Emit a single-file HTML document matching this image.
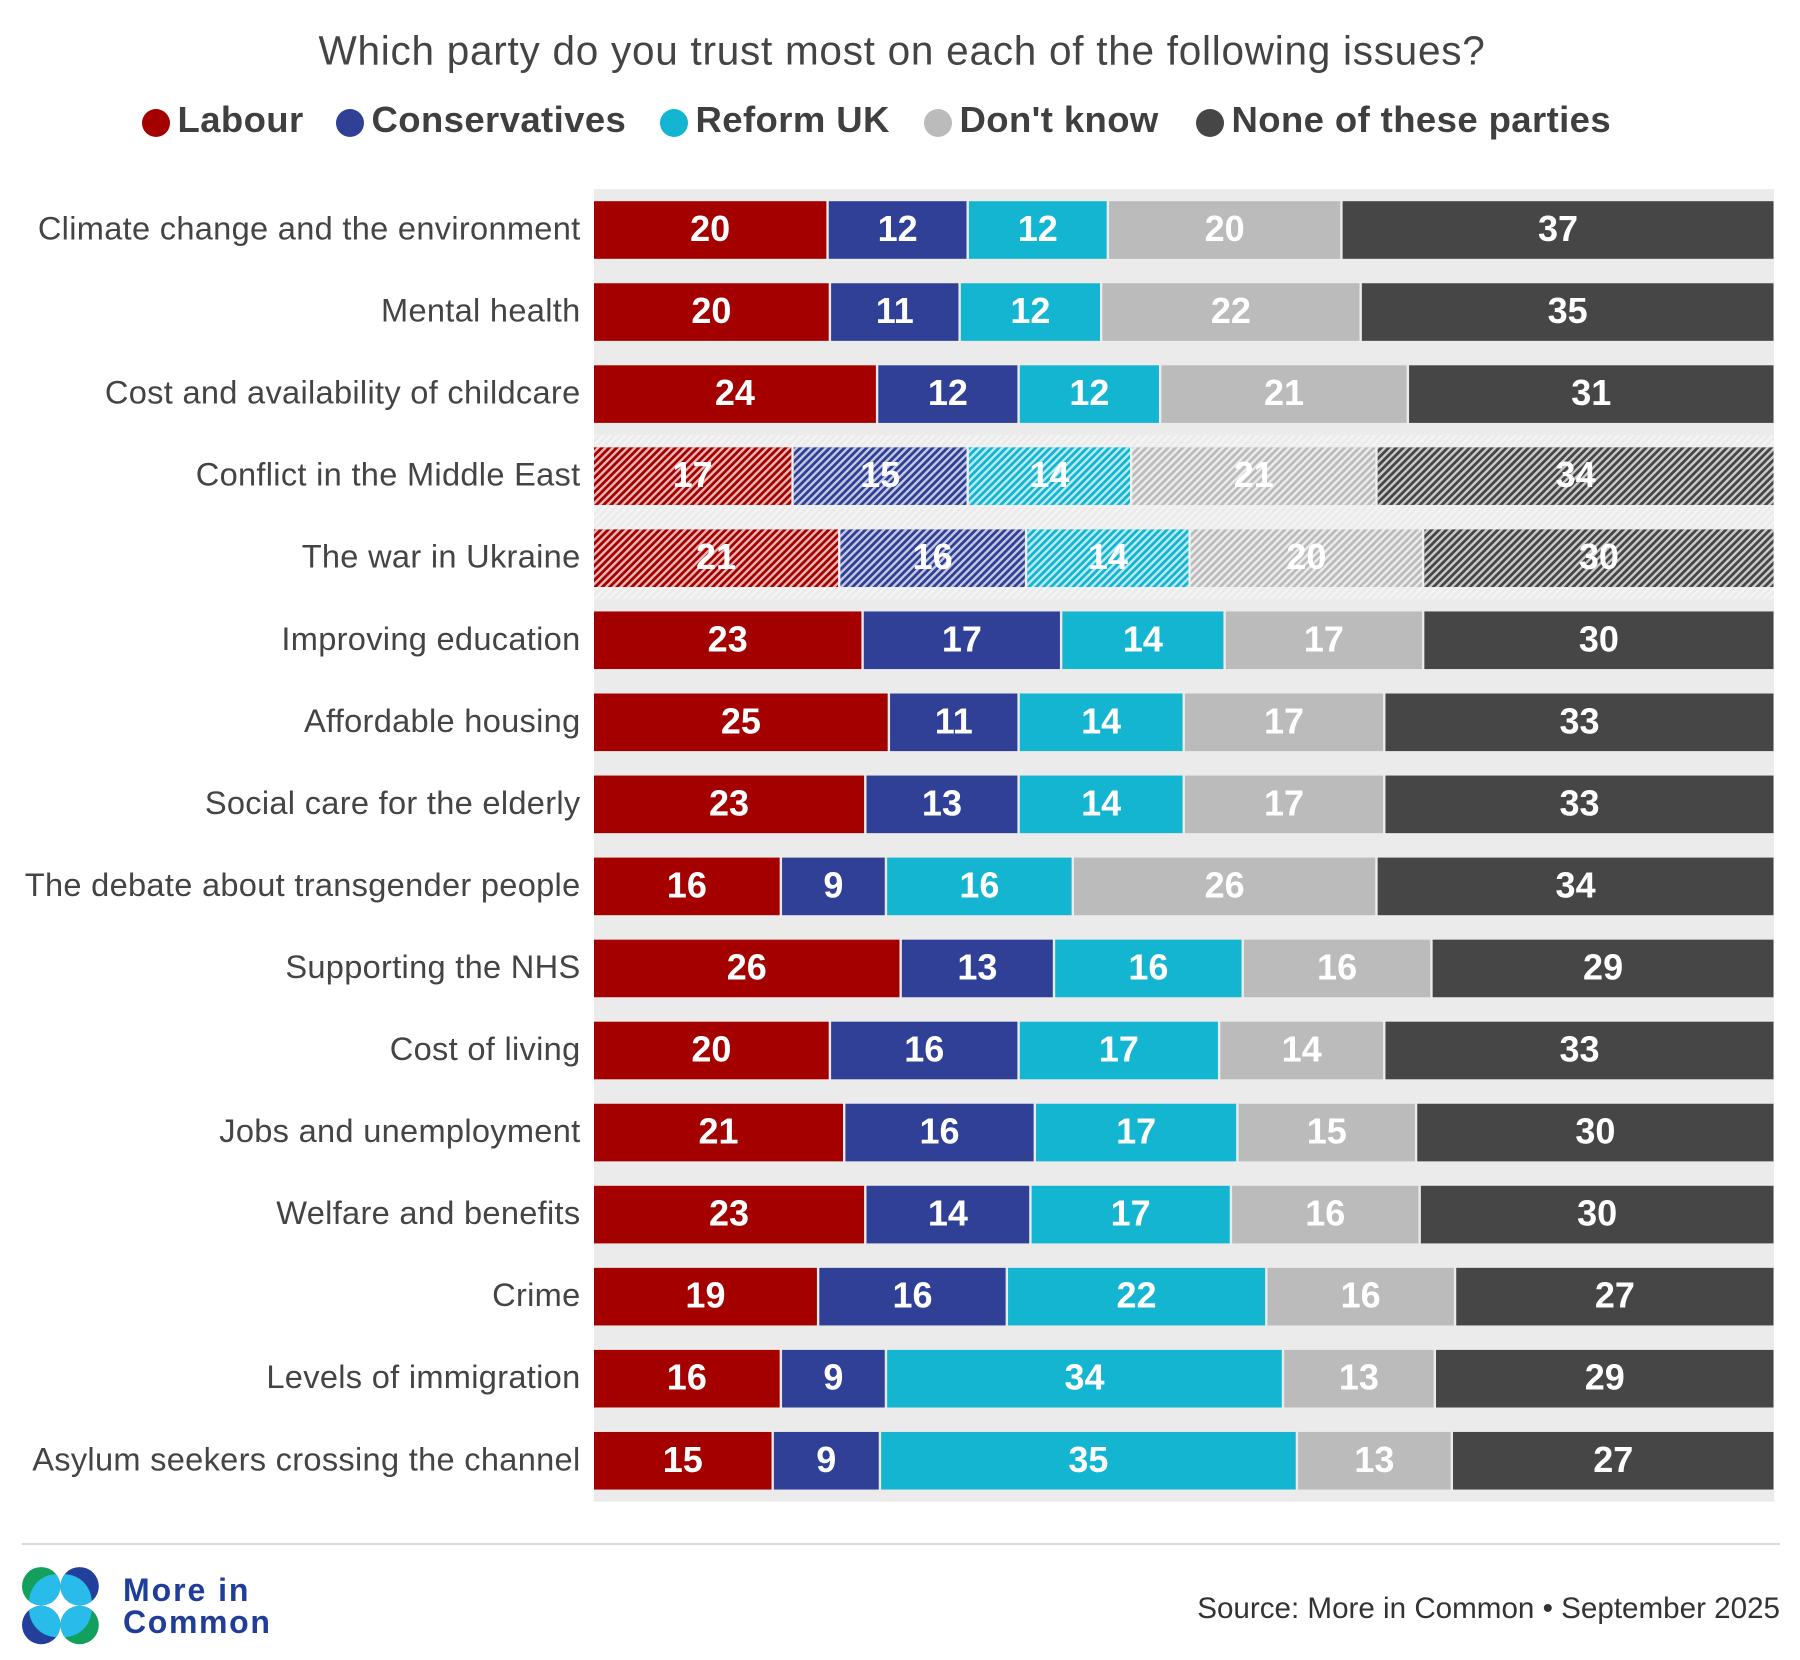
<!DOCTYPE html>
<html lang="en">
<head>
<meta charset="utf-8">
<title>Which party do you trust most on each of the following issues?</title>
<style>
html,body{margin:0;padding:0;background:#fff;width:1800px;height:1660px;overflow:hidden}
svg{display:block}
text{font-family:"Liberation Sans",sans-serif}
</style>
</head>
<body>
<svg id="chart" xmlns="http://www.w3.org/2000/svg" width="1800" height="1660" viewBox="0 0 1800 1660">
  <defs>
    <pattern id="hatch" patternUnits="userSpaceOnUse" width="5.2" height="5.2" patternTransform="rotate(45)">
      <rect x="0" y="0" width="2.4" height="5.2" fill="#fff" fill-opacity="0.72"></rect>
    </pattern>
    <clipPath id="clip-tl"><circle cx="41.2" cy="1586.3" r="19.2"></circle></clipPath>
    <clipPath id="clip-tr"><circle cx="79.6" cy="1586.3" r="19.2"></circle></clipPath>
    <clipPath id="clip-bl"><circle cx="41.2" cy="1625" r="19.2"></circle></clipPath>
    <clipPath id="clip-br"><circle cx="79.6" cy="1625" r="19.2"></circle></clipPath>
  </defs>

  <text x="902" y="64.5" text-anchor="middle" font-size="40.5" letter-spacing="0.74" fill="#444">Which party do you trust most on each of the following issues?</text>

  <g id="legend"></g>
  <g id="plot"></g>

  <line x1="22" y1="1544" x2="1780" y2="1544" stroke="#d9d9d9" stroke-width="2"></line>

  <g>
    <circle cx="41.2" cy="1586.3" r="19.2" fill="#12a05c"></circle>
    <circle cx="56.7" cy="1601.8" r="27.6" fill="#29bbe9" clip-path="url(#clip-tl)"></circle>
    <circle cx="79.6" cy="1586.3" r="19.2" fill="#233f9c"></circle>
    <circle cx="64.1" cy="1601.8" r="27.6" fill="#29bbe9" clip-path="url(#clip-tr)"></circle>
    <circle cx="41.2" cy="1625" r="19.2" fill="#233f9c"></circle>
    <circle cx="56.7" cy="1609.5" r="27.6" fill="#29bbe9" clip-path="url(#clip-bl)"></circle>
    <circle cx="79.6" cy="1625" r="19.2" fill="#12a05c"></circle>
    <circle cx="64.1" cy="1609.5" r="27.6" fill="#29bbe9" clip-path="url(#clip-br)"></circle>
    <text x="123" y="1601" font-size="32" font-weight="bold" letter-spacing="1.95" fill="#1f3d99">More in</text>
    <text x="123" y="1633" font-size="32" font-weight="bold" letter-spacing="1.65" fill="#1f3d99">Common</text>
  </g>

  <text x="1780" y="1618" text-anchor="end" font-size="29.6" fill="#333">Source: More in Common • September 2025</text>
</svg>

<script>
const categories = [
  "Climate change and the environment",
  "Mental health",
  "Cost and availability of childcare",
  "Conflict in the Middle East",
  "The war in Ukraine",
  "Improving education",
  "Affordable housing",
  "Social care for the elderly",
  "The debate about transgender people",
  "Supporting the NHS",
  "Cost of living",
  "Jobs and unemployment",
  "Welfare and benefits",
  "Crime",
  "Levels of immigration",
  "Asylum seekers crossing the channel"
];
const seriesNames = ["Labour", "Conservatives", "Reform UK", "Don't know", "None of these parties"];
const labour        = [20, 20, 24, 17, 21, 23, 25, 23, 16, 26, 20, 21, 23, 19, 16, 15];
const conservatives = [12, 11, 12, 15, 16, 17, 11, 13,  9, 13, 16, 16, 14, 16,  9,  9];
const reformUk      = [12, 12, 12, 14, 14, 14, 14, 14, 16, 16, 17, 17, 17, 22, 34, 35];
const dontKnow      = [20, 22, 21, 21, 20, 17, 17, 17, 26, 16, 14, 15, 16, 16, 13, 13];
const noneOfThese   = [37, 35, 31, 34, 30, 30, 33, 33, 34, 29, 33, 30, 30, 27, 29, 27];
const hatchedCategories = ["Conflict in the Middle East", "The war in Ukraine"];

const seriesValues = [labour, conservatives, reformUk, dontKnow, noneOfThese];
const seriesColors = ["#a50000", "#2f4096", "#13b5d0", "#bbbbbb", "#464646"];

const SVG_NS = "http://www.w3.org/2000/svg";
const plot = document.getElementById("plot");
const legend = document.getElementById("legend");

const plotLeft = 594, plotRight = 1774, barRight = 1773.5;
const rowFirst = 230, rowStep = 82.05, barHeight = 57.6;
const halfGap = 1.2;

function make(tag, attrs, parent) {
  const el = document.createElementNS(SVG_NS, tag);
  for (const k in attrs) el.setAttribute(k, attrs[k]);
  parent.appendChild(el);
  return el;
}
function yCenter(i) { return rowFirst + i * rowStep; }
function xScale(share) { return plotLeft + share * (barRight - plotLeft); }
function slug(s) { return s.toLowerCase().replace(/[^a-z0-9]+/g, "-").replace(/^-|-$/g, ""); }

/* grey background track */
const track = make("rect", {x: plotLeft, y: 189, width: plotRight - plotLeft, height: 1312.7, fill: "#ebebeb"}, plot);



/* hatched background band behind the hatched rows */
hatchedCategories.forEach(function (name) {
  const i = categories.indexOf(name);
  if (i < 0) return;
  const band = make("rect", {
    x: plotLeft, y: yCenter(i) - rowStep / 2, width: plotRight - plotLeft, height: rowStep, fill: "url(#hatch)", opacity: 0.6
  }, plot);
  
  
});

/* rows */
categories.forEach(function (name, i) {
  const rowGroup = make("g", {}, plot);
  
  

  const catLabel = make("text", {
    x: 580.5, y: yCenter(i) + 9.5, "text-anchor": "end", "font-size": 32.6, "letter-spacing": 0.3, fill: "#444"
  }, rowGroup);
  catLabel.textContent = name;
  
  

  const isHatched = hatchedCategories.indexOf(name) >= 0;
  const total = seriesValues.reduce(function (sum, s) { return sum + s[i]; }, 0);
  let cum = 0;
  seriesValues.forEach(function (values, s) {
    const v = values[i];
    const x0 = xScale(cum / total);
    const x1 = xScale((cum + v) / total);
    cum += v;
    const segLeft = s === 0 ? x0 : x0 + halfGap;
    const segRight = s === seriesValues.length - 1 ? x1 : x1 - halfGap;

    const seg = make("rect", {
      x: segLeft, y: yCenter(i) - barHeight / 2, width: Math.max(0, segRight - segLeft), height: barHeight, fill: seriesColors[s]
    }, rowGroup);
    
    

    if (isHatched) {
      const overlay = make("rect", {
        x: segLeft, y: yCenter(i) - barHeight / 2, width: Math.max(0, segRight - segLeft), height: barHeight, fill: "url(#hatch)"
      }, rowGroup);
      
      
    }

    const valueLabel = make("text", {
      x: (segLeft + segRight) / 2, y: yCenter(i) + 11, "text-anchor": "middle",
      "font-size": 36, "font-weight": "bold", fill: "#fff"
    }, rowGroup);
    valueLabel.textContent = v;
    
    
  });
});

/* legend */
const legendCircleX = [156, 350, 674, 938, 1210];
seriesNames.forEach(function (name, s) {
  const item = make("g", {}, legend);
  
  
  const dot = make("circle", {cx: legendCircleX[s], cy: 123, r: 14, fill: seriesColors[s]}, item);
  
  
  const label = make("text", {
    x: legendCircleX[s] + 21.5, y: 132, "font-size": 36.5, "letter-spacing": 0.4, "font-weight": "bold", fill: "#3f3f3f"
  }, item);
  label.textContent = name;
  
  
});
</script>
</body>
</html>
